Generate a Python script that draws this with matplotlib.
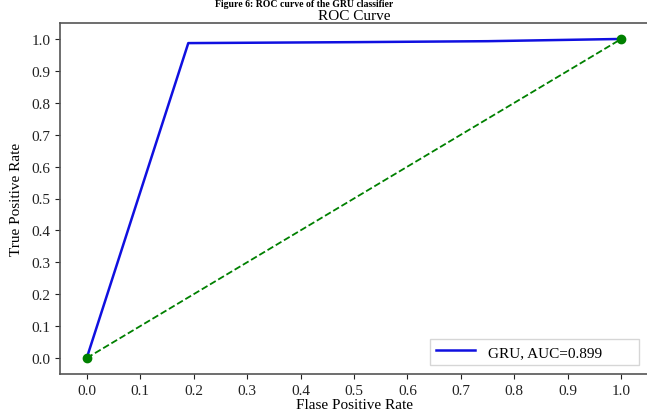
import matplotlib.pyplot as plt
import numpy as np

plt.rcParams['font.family'] = ['Liberation Serif', 'DejaVu Serif']

# ROC points
fpr = [0.0, 0.19, 0.5, 0.75, 1.0]
tpr = [0.0, 0.987, 0.99, 0.993, 1.0]
chance = [0.0, 1.0]
auc_label = 'GRU, AUC=0.899        '
ticks = np.round(np.arange(0, 1.01, 0.1), 1)

fig = plt.figure(figsize=(6.47, 4.14), dpi=100)
ax = fig.add_axes([60 / 647, 39 / 414, 588 / 647, 351 / 414])

ax.plot(fpr, tpr, color='#1010e0', linewidth=1.8, label=auc_label)
ax.plot(chance, chance, color='green', linestyle='--', linewidth=1.3,
        marker='o', markersize=6)

ax.set_xticks(ticks)
ax.set_yticks(ticks)
ax.tick_params(labelsize=11, colors='#222222')
ax.set_xlabel('Flase Positive Rate', fontsize=11, labelpad=1)
ax.set_ylabel('True Positive Rate', fontsize=11, labelpad=6)
ax.set_title('ROC Curve', fontsize=11, pad=3)
for s in ax.spines.values():
    s.set_color('#555555')
    s.set_linewidth(1.2)

ax.legend(loc='lower right', fontsize=11, fancybox=False, handlelength=2.6,
          borderaxespad=0.6)

# caption from the page (cut off by the crop in the original)
fig.text(0.47, 0.999, 'Figure 6: ROC curve of the GRU classifier', ha='center',
         va='top', fontsize=7, fontweight='bold')

fig.savefig('out.png', dpi=100)
